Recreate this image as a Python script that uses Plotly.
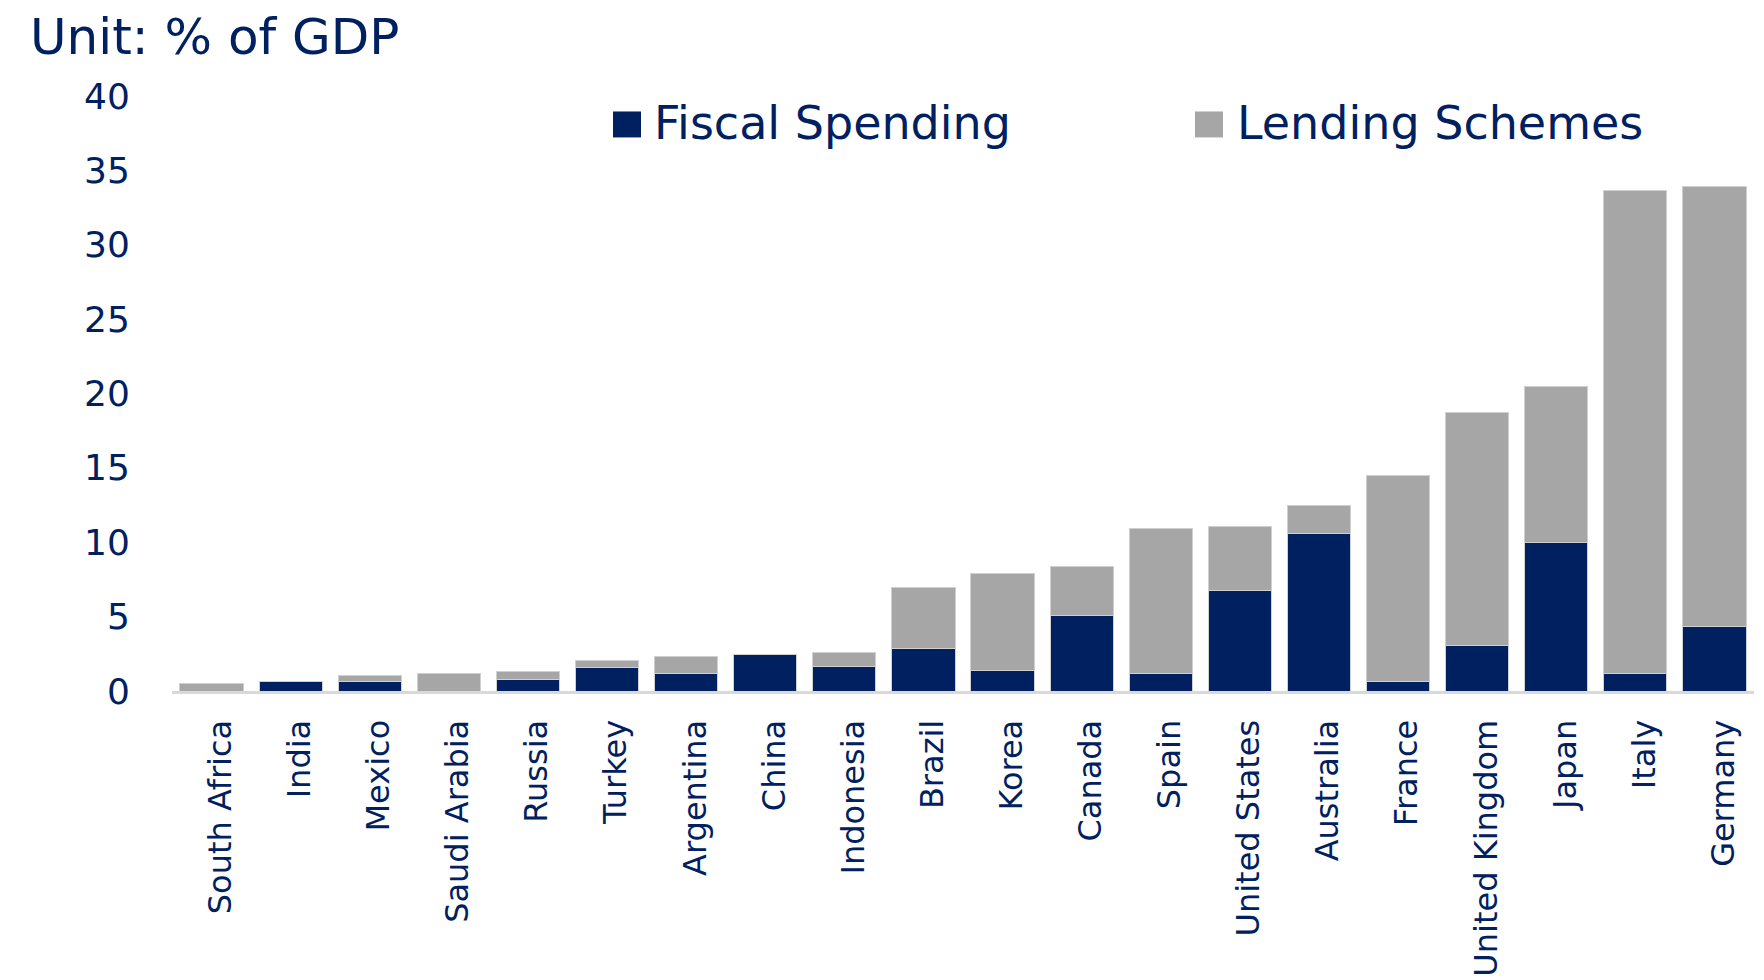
import plotly.graph_objects as go

countries = ["South Africa", "India", "Mexico", "Saudi Arabia", "Russia", "Turkey",
             "Argentina", "China", "Indonesia", "Brazil", "Korea", "Canada", "Spain",
             "United States", "Australia", "France", "United Kingdom", "Japan",
             "Italy", "Germany"]
fiscal_spending = [0.0, 0.66, 0.66, 0.0, 0.77, 1.56, 1.17, 2.45, 1.66, 2.83, 1.40, 5.10,
                   1.16, 6.76, 10.56, 0.67, 3.09, 9.96, 1.19, 4.36]
lending_schemes = [0.52, 0.0, 0.38, 1.17, 0.52, 0.49, 1.13, 0.0, 0.90, 4.16, 6.49, 3.30,
                   9.79, 4.33, 1.91, 13.84, 15.60, 10.52, 32.49, 29.57]
y_ticks = [0, 5, 10, 15, 20, 25, 30, 35, 40]

NAVY = "#002060"
GRAY = "#A6A6A6"
FONT = "Verdana, DejaVu Sans, sans-serif"

W, H = 1764, 980
ML, MR, MT, MB = 172, 10, 95.5, 288.5
PW, PH = W - ML - MR, H - MT - MB


def px_x(px):
    return (px - ML) / PW


def px_y(py):
    return (H - MB - py) / PH


fig = go.Figure()
fig.add_trace(go.Bar(x=countries, y=fiscal_spending, name="Fiscal Spending",
                     marker=dict(color=NAVY, line=dict(color="#D0D0D0", width=1)),
                     showlegend=False))
fig.add_trace(go.Bar(x=countries, y=lending_schemes, name="Lending Schemes",
                     marker=dict(color=GRAY, line=dict(color="#D0D0D0", width=1)),
                     showlegend=False))

# custom legend (large squares, like the original)
legend_items = [("Fiscal Spending", NAVY, 613, 652), ("Lending Schemes", GRAY, 1195, 1235)]
shapes = []
annotations = []
for name, col, sq_x, tx_x in legend_items:
    shapes.append(dict(type="rect", xref="paper", yref="paper",
                       x0=px_x(sq_x), x1=px_x(sq_x + 28),
                       y0=px_y(137), y1=px_y(111),
                       fillcolor=col, line=dict(width=0)))
    annotations.append(dict(text=name, xref="paper", yref="paper",
                            x=px_x(tx_x), y=px_y(123), xanchor="left", yanchor="middle",
                            showarrow=False, font=dict(family=FONT, size=46, color=NAVY)))

annotations.append(dict(text="Unit: % of GDP", xref="paper", yref="paper",
                        x=px_x(28), y=px_y(36), xanchor="left", yanchor="middle",
                        showarrow=False, font=dict(family=FONT, size=50, color=NAVY)))

fig.update_layout(
    width=W, height=H,
    margin=dict(l=ML, r=MR, t=MT, b=MB, autoexpand=False),
    barmode="stack", bargap=0.2,
    plot_bgcolor="white", paper_bgcolor="white",
    font=dict(family=FONT, color=NAVY),
    shapes=shapes, annotations=annotations,
    xaxis=dict(showgrid=False, showline=True, linecolor="#D9D9D9", linewidth=3,
               tickangle=-90, tickfont=dict(family=FONT, size=32, color=NAVY),
               ticks="outside", ticklen=0, ticklabelstandoff=13, ticklabelshift=9),
    yaxis=dict(range=[0, 40], tickvals=y_ticks, showgrid=False, showline=False,
               zeroline=False, tickfont=dict(family=FONT, size=36, color=NAVY),
               ticks="outside", ticklen=0, ticklabelstandoff=34),
)

fig.write_html("out.html")
